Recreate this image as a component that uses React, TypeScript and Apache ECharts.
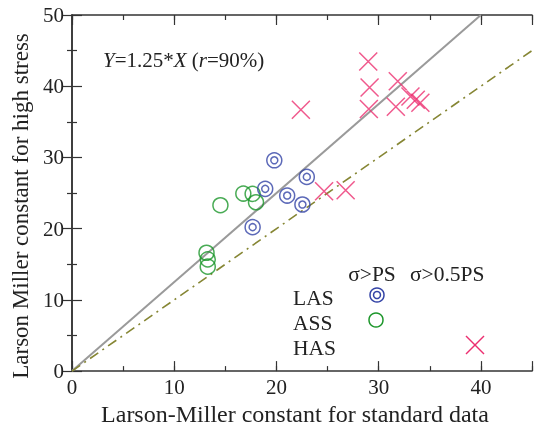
import React, { useEffect, useRef } from "react";
import * as echarts from "echarts";

// Larson-Miller constants: standard data (x) vs. high stress (y)
const lasX = [19.79, 22.97, 18.9, 21.05, 22.54, 17.67];
const lasY = [29.6, 27.27, 25.59, 24.65, 23.39, 20.21];

const assX = [14.52, 16.76, 17.67, 18.0, 13.16, 13.28, 13.28];
const assY = [23.29, 24.93, 24.89, 23.71, 16.62, 15.69, 14.66];

const hasX = [28.98, 29.11, 29.04, 22.39, 31.87, 31.68, 33.11, 33.63, 34.08, 24.66, 26.77];
const hasY = [43.46, 39.82, 36.79, 36.69, 40.7, 37.11, 38.56, 38.1, 37.68, 25.25, 25.39];

// Reference lines: regression Y = 1.25X and the identity line Y = X
const fitLine = [[0, 0], [40, 50]];
const equalLine = [[0, 0], [45, 45]];

const xTicks = [0, 10, 20, 30, 40];
const yTicks = [0, 10, 20, 30, 40, 50];

const FONT = "Liberation Serif";
const INK = "#222";
const BLUE = "#3343a6";
const GREEN = "#1c962a";
const PINK = "#ec2f70";
const CROSS = "path://M0,0L10,10M10,0L0,10";

const zip = (xs: number[], ys: number[]) => xs.map((x, i) => [x, ys[i]]);

export default function App() {
  const ref = useRef<HTMLDivElement>(null);

  useEffect(() => {
    if (!ref.current) return;
    const chart = echarts.init(ref.current, undefined, { renderer: "svg" });

    const axisLine = { show: true, lineStyle: { color: "#333", width: 1.5 } };
    const baseX = { type: "value", min: 0, max: 45, splitLine: { show: false } };

    const minorX = (position: string, withLabel: boolean, name?: string) => ({
      ...baseX,
      position,
      interval: 5,
      axisLine,
      axisTick: { show: true, inside: true, length: 5, lineStyle: { color: "#333", width: 1.2 } },
      axisLabel: withLabel
        ? {
            show: true,
            margin: 5,
            fontFamily: FONT,
            fontSize: 21,
            color: INK,
            formatter: (v: number) => (xTicks.includes(v) ? String(v) : ""),
          }
        : { show: false },
      ...(name
        ? {
            name,
            nameLocation: "middle",
            nameGap: 29,
            nameTextStyle: { fontFamily: FONT, fontSize: 24, color: INK, padding: [0, 14, 0, 0] },
          }
        : {}),
    });

    const majorX = (position: string) => ({
      ...baseX,
      position,
      interval: 10,
      axisLine: { show: false },
      axisTick: { show: true, inside: true, length: 10, lineStyle: { color: "#333", width: 1.2 } },
      axisLabel: { show: false },
    });

    const yAxisDef = (position: string, withLabel: boolean) => ({
      type: "value",
      min: 0,
      max: 50,
      interval: 10,
      position,
      splitLine: { show: false },
      axisLine,
      axisTick: { show: true, inside: true, length: 10, lineStyle: { color: "#333", width: 1.2 } },
      minorTick: { show: true, splitNumber: 2, length: 5, lineStyle: { color: "#333", width: 1.2 } },
      axisLabel: withLabel
        ? {
            show: true,
            margin: 8,
            fontFamily: FONT,
            fontSize: 21,
            color: INK,
            formatter: (v: number) => (yTicks.includes(v) ? String(v) : ""),
          }
        : { show: false },
    });

    const txt = (text: string, left: number, top: number, align = "left") => ({
      type: "text",
      x: left,
      y: top,
      style: {
        text,
        fontFamily: FONT,
        fontSize: 21.5,
        fill: INK,
        textAlign: align,
        textVerticalAlign: "middle",
      },
    });

    chart.setOption({
      animation: false,
      grid: { left: 72, right: 1, top: 15, bottom: 59 },
      xAxis: [
        minorX("bottom", true, "Larson-Miller constant for standard data"),
        majorX("bottom"),
        minorX("top", false),
        majorX("top"),
      ],
      yAxis: [yAxisDef("left", true), yAxisDef("right", false)],
      series: [
        {
          type: "line",
          data: fitLine,
          symbol: "none",
          lineStyle: { color: "#9a9a9a", width: 2 },
          z: 1,
        },
        {
          type: "line",
          data: equalLine,
          symbol: "none",
          lineStyle: { color: "#868634", width: 1.6, type: [10, 5, 2, 5] },
          z: 1,
        },
        {
          type: "scatter",
          data: zip(assX, assY),
          symbol: "circle",
          symbolSize: 15,
          itemStyle: { color: "transparent", borderColor: GREEN, borderWidth: 1.5 },
          z: 3,
        },
        {
          type: "scatter",
          data: zip(lasX, lasY),
          symbol: "circle",
          symbolSize: 15,
          itemStyle: { color: "transparent", borderColor: BLUE, borderWidth: 1.5 },
          z: 3,
        },
        {
          type: "scatter",
          data: zip(lasX, lasY),
          symbol: "circle",
          symbolSize: 7,
          itemStyle: { color: "transparent", borderColor: BLUE, borderWidth: 1.5 },
          z: 3,
        },
        {
          type: "scatter",
          data: zip(hasX, hasY),
          symbol: CROSS,
          symbolSize: 18,
          itemStyle: { color: "transparent", borderColor: PINK, borderWidth: 1.5 },
          z: 3,
        },
      ],
      graphic: [
        // vertical axis title
        {
          type: "text",
          x: 20,
          y: 206,
          rotation: Math.PI / 2,
          style: {
            text: "Larson Miller constant for high stress",
            fontFamily: FONT,
            fontSize: 23,
            fill: INK,
            textAlign: "center",
            textVerticalAlign: "middle",
          },
        },
        {
          type: "text",
          x: 103,
          y: 60,
          style: {
            text: "{i|Y}=1.25*{i|X} ({i|r}=90%)",
            fontFamily: FONT,
            fontSize: 21,
            fill: INK,
            textVerticalAlign: "middle",
            rich: {
              i: { fontFamily: FONT, fontSize: 21, fontStyle: "italic", fill: INK },
            },
          },
        },
        txt("σ>PS", 372, 274, "center"),
        txt("σ>0.5PS", 410, 274),
        txt("LAS", 293, 298),
        txt("ASS", 293, 323),
        txt("HAS", 293, 348),
        {
          type: "circle",
          shape: { cx: 377, cy: 295, r: 7 },
          style: { fill: "none", stroke: BLUE, lineWidth: 1.5 },
        },
        {
          type: "circle",
          shape: { cx: 377, cy: 295, r: 3.5 },
          style: { fill: "none", stroke: BLUE, lineWidth: 1.5 },
        },
        {
          type: "circle",
          shape: { cx: 376, cy: 320, r: 7 },
          style: { fill: "none", stroke: GREEN, lineWidth: 1.5 },
        },
        {
          type: "line",
          shape: { x1: 466, y1: 336, x2: 484, y2: 354 },
          style: { stroke: PINK, lineWidth: 1.5 },
        },
        {
          type: "line",
          shape: { x1: 484, y1: 336, x2: 466, y2: 354 },
          style: { stroke: PINK, lineWidth: 1.5 },
        },
      ],
    });

    return () => chart.dispose();
  }, []);

  return (
    <div
      ref={ref}
      style={{ position: "fixed", left: 0, top: 0, width: 535, height: 431 }}
    />
  );
}
